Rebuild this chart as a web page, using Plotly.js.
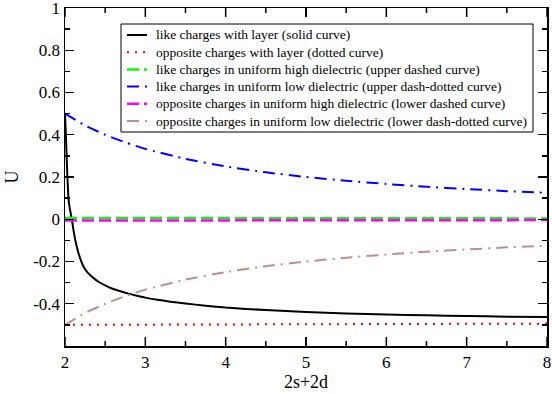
<!DOCTYPE html>
<html>
<head>
<meta charset="utf-8">
<script src="https://cdn.plot.ly/plotly-3.0.1.min.js"></script>
<style>
html,body{margin:0;padding:0;background:#fff;}
#chart{width:552px;height:394px;}
</style>
</head>
<body>
<div id="chart"></div>
<script>
// ---- data ----
const seriesNames = [
  "like charges with layer (solid curve)",
  "opposite charges with layer (dotted curve)",
  "like charges in uniform high dielectric (upper dashed curve)",
  "like charges in uniform low dielectric (upper dash-dotted curve)",
  "opposite charges in uniform high dielectric (lower dashed curve)",
  "opposite charges in uniform low dielectric (lower dash-dotted curve)"
];

const xLikeLayer = [2.0, 2.01, 2.02, 2.03, 2.045, 2.065, 2.087, 2.105, 2.129, 2.15, 2.17, 2.2, 2.233, 2.27, 2.315, 2.36, 2.42, 2.5, 2.585, 2.69, 2.79, 2.9, 3.0, 3.15, 3.29, 3.5, 3.75, 4.0, 4.5, 5.0, 5.5, 6.0, 6.5, 7.0, 7.5, 8.0];
const yLikeLayer = [0.5, 0.41, 0.3, 0.2, 0.09, 0.04, -0.005, -0.05, -0.1, -0.135, -0.163, -0.197, -0.226, -0.247, -0.265, -0.28, -0.297, -0.313, -0.328, -0.341, -0.352, -0.362, -0.371, -0.381, -0.389, -0.399, -0.409, -0.418, -0.43, -0.439, -0.446, -0.451, -0.455, -0.458, -0.461, -0.463];

const xOppLayer = [2, 3, 4, 5, 6, 7, 8];
const yOppLayer = [-0.5, -0.499, -0.498, -0.497, -0.496, -0.495, -0.494];

const xUniform = [2, 2.25, 2.5, 2.75, 3, 3.5, 4, 4.5, 5, 5.5, 6, 6.5, 7, 7.5, 8];
const yLikeHigh = [0.006, 0.006, 0.006, 0.006, 0.005, 0.005, 0.005, 0.005, 0.005, 0.005, 0.004, 0.004, 0.004, 0.004, 0.004];
const yLikeLow  = [0.5, 0.444, 0.4, 0.364, 0.333, 0.286, 0.25, 0.222, 0.2, 0.182, 0.167, 0.154, 0.143, 0.133, 0.125];
const yOppHigh  = [-0.006, -0.006, -0.006, -0.006, -0.005, -0.005, -0.005, -0.005, -0.005, -0.005, -0.004, -0.004, -0.004, -0.004, -0.004];
const yOppLow   = [-0.5, -0.444, -0.4, -0.364, -0.333, -0.286, -0.25, -0.222, -0.2, -0.182, -0.167, -0.154, -0.143, -0.133, -0.125];

const xTickVals = [2, 3, 4, 5, 6, 7, 8];
const xTickText = ["2", "3", "4", "5", "6", "7", "8"];
const xMinorTickVals = [2.5, 3.5, 4.5, 5.5, 6.5, 7.5];
const yTickVals = [-0.6, -0.4, -0.2, 0, 0.2, 0.4, 0.6, 0.8, 1];
const yTickText = ["", "-0.4", "-0.2", "0", "0.2", "0.4", "0.6", "0.8", "1"];

// ---- styling ----
const serif = "Liberation Serif";
const dashDot = "12px,6px,2px,6px";
const lineStyles = [
  {color: "#000000", width: 2, dash: "solid"},
  {color: "#ff0000", width: 2, dash: "2px,6px"},
  {color: "#00ff00", width: 2.5, dash: "12px,5px"},
  {color: "#0000ff", width: 2, dash: dashDot},
  {color: "#ff00ff", width: 2.5, dash: "12px,5px"},
  {color: "#bc8f8f", width: 2, dash: dashDot}
];
const seriesX = [xLikeLayer, xOppLayer, xUniform, xUniform, xUniform, xUniform];
const seriesY = [yLikeLayer, yOppLayer, yLikeHigh, yLikeLow, yOppHigh, yOppLow];
const lineShapes = ["spline", "linear", "linear", "spline", "linear", "spline"];

const traces = seriesNames.map((nm, i) => ({
  x: seriesX[i], y: seriesY[i], name: nm, mode: "lines", showlegend: false,
  line: Object.assign({}, lineStyles[i], {shape: lineShapes[i], smoothing: 0.5})
}));

// plot area in pixels (for placing the legend box in paper coordinates)
const W = 552, H = 394, mL = 65, mR = 5, mT = 8, mB = 48;
const pw = W - mL - mR, ph = H - mT - mB;
const px = v => (v - mL) / pw;
const py = v => (H - mB - v) / ph;
const yMin = -0.6, yMax = 1;

const shapes = [];

// x-axis ticks (bottom and mirrored top), inside, placed on the axis scales
const unitsPerPx = (yMax - yMin) / ph;
function addXTick(v, lenPx) {
  const len = lenPx * unitsPerPx;
  shapes.push({type: "line", xref: "x", yref: "y", layer: "above",
    x0: v, x1: v, y0: yMin, y1: yMin + len, line: {color: "#000", width: 1.5}});
  shapes.push({type: "line", xref: "x", yref: "y", layer: "above",
    x0: v, x1: v, y0: yMax, y1: yMax - len, line: {color: "#000", width: 1.5}});
}
xTickVals.forEach(v => addXTick(v, 9));
xMinorTickVals.forEach(v => addXTick(v, 5));

// legend box, drawn as shapes + annotations
const legBox = {left: 121, right: 533, top: 24, bottom: 132, sampleL: 127, sampleR: 147, textL: 154, row0: 35, rowStep: 17.2};
shapes.push({
  type: "rect", xref: "paper", yref: "paper", layer: "above",
  x0: px(legBox.left), x1: px(legBox.right), y0: py(legBox.bottom), y1: py(legBox.top),
  line: {color: "#000", width: 1}, fillcolor: "#fff"
});
const annotations = [];
seriesNames.forEach((nm, i) => {
  const rowY = legBox.row0 + i * legBox.rowStep;
  shapes.push({
    type: "line", xref: "paper", yref: "paper", layer: "above",
    x0: px(legBox.sampleL), x1: px(legBox.sampleR), y0: py(rowY), y1: py(rowY),
    line: {color: lineStyles[i].color, width: lineStyles[i].width, dash: lineStyles[i].dash}
  });
  annotations.push({
    xref: "paper", yref: "paper", x: px(legBox.textL), y: py(rowY),
    xanchor: "left", yanchor: "middle", showarrow: false, text: nm,
    font: {family: serif, size: 13.5, color: "#000"}
  });
});

const axisCommon = {
  showgrid: false, zeroline: false,
  showline: true, linecolor: "#000", linewidth: 1.5, mirror: "allticks",
  ticks: "inside", ticklen: 9, tickwidth: 1.3, tickcolor: "#000",
  ticklabeloverflow: "allow",
  tickfont: {family: serif, size: 17, color: "#000"}
};

const layout = {
  width: W, height: H,
  margin: {l: mL, r: mR, t: mT, b: mB},
  paper_bgcolor: "#fff", plot_bgcolor: "#fff",
  font: {family: serif, color: "#000"},
  showlegend: false,
  shapes: shapes,
  annotations: annotations,
  xaxis: Object.assign({}, axisCommon, {
    range: [2, 8], tickmode: "array", tickvals: xTickVals, ticktext: xTickText,
    title: {text: "2s+2d", font: {family: serif, size: 18, color: "#000"}, standoff: 0}
  }),
  yaxis: Object.assign({}, axisCommon, {
    range: [yMin, yMax], tickmode: "array", tickvals: yTickVals, ticktext: yTickText,
    minor: {dtick: 0.1, ticks: "inside", ticklen: 5, tickcolor: "#000", tickwidth: 1.3},
    title: {text: "U", font: {family: serif, size: 18, color: "#000"}, standoff: 10}
  })
};

Plotly.newPlot("chart", traces, layout, {staticPlot: true, displayModeBar: false});
</script>
</body>
</html>
